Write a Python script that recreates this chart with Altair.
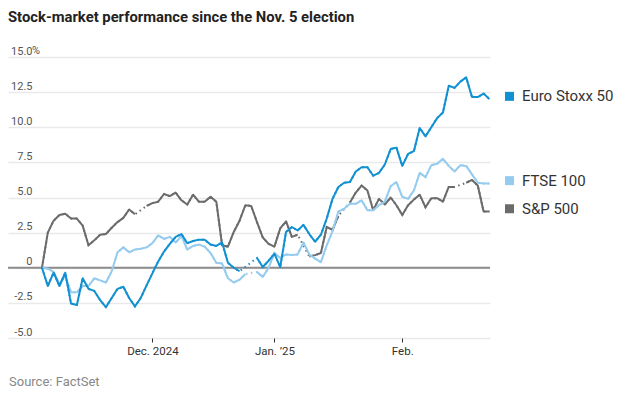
import json
import pandas as pd
import altair as alt

title_text = "Stock-market performance since the Nov. 5 election"
source_text = "Source: FactSet"

series_names = ["Euro Stoxx 50", "FTSE 100", "S&P 500"]
series_colors = ["#1190d2", "#95cbee", "#6b6b6b"]
label_values = [12.2, 6.2, 4.2]

# trading days (union of markets): weekdays Nov 5 2024 - Feb 24 2025, minus Dec 25 and Jan 1
trading_days = [d for d in pd.bdate_range("2024-11-05", "2025-02-24")
                if d.strftime("%m-%d") not in ("12-25", "01-01")]

euro = [0, -1.3, -0.35, -1.3, -0.35, -2.55, -2.65, -0.75, -1.5, -1.65,
        -2.3, -2.8, -2.15, -1.5, -1.35, -2.15, -2.75, -2.15, -1.25, -0.4,
        0.45, 1.15, 1.7, 2.2, 2.4, 1.75, 1.9, 2.0, 2.0, 1.65,
        1.55, 1.8, 0.35, 0.0, -0.25, None, None, 0.7, 0.05, 0.5,
        1.0, 0.05, 2.55, 2.9, 2.65, 3.05, 2.4, 1.85, 2.35, 3.5,
        4.9, 5.75, 6.05, 6.1, 6.85, 7.15, 7.15, 6.55, 6.75, 7.35,
        8.45, 8.55, 7.25, 8.1, 8.3, 9.95, 9.35, 10.0, 10.65, 11.05,
        12.95, 12.8, 13.25, 13.55, 12.15, 12.15, 12.4, 12.0]

ftse = [0, -0.07, -0.3, -1.15, -0.6, -1.75, -1.75, -1.3, -1.3, -0.75,
        -0.9, -1.05, -0.25, 1.1, 1.45, 1.1, 1.3, 1.35, 1.45, 1.75,
        2.3, 2.05, 2.2, 1.8, 2.25, 1.3, 1.55, 1.65, 1.5, 1.05,
        0.35, 0.3, -0.75, -1.05, -0.85, -0.45, None, -0.3, -0.65, 0.0,
        1.05, 0.7, 0.95, 0.9, 0.95, 1.8, 0.95, 0.65, 0.4, 1.6,
        2.6, 4.0, 4.2, 4.55, 4.55, 4.8, 4.1, 4.1, 4.45, 4.7,
        5.8, 6.1, 5.05, 4.9, 5.5, 6.75, 6.45, 7.3, 7.4, 7.75,
        7.25, 6.85, 7.3, 7.25, 6.65, 6.05, 6.0, 6.0]

spx = [0, 2.5, 3.35, 3.75, 3.85, 3.5, 3.5, 3.0, 1.6, 1.95,
       2.35, 2.4, 2.85, 3.25, 3.55, 4.15, 3.8, None, 4.4, 4.6,
       4.7, 5.25, 5.1, 5.35, 4.8, 4.5, 5.2, 4.7, 4.7, 5.05,
       4.7, 1.6, 1.5, 2.55, 3.35, 4.45, 4.4, 3.25, 2.15, 1.7,
       1.5, 2.8, 3.3, 2.2, 2.35, None, 0.8, 0.9, 1.05, 2.9,
       2.7, 3.7, None, 4.65, 5.35, 5.85, 5.5, 4.1, 4.9, 4.5,
       5.0, 4.45, 3.75, 4.45, 4.85, 5.2, 4.3, 4.95, 4.95, 4.7,
       5.75, 5.75, None, 6.05, 6.25, 5.85, 4.0, 4.0]

y_ticks = [-5, -2.5, 0, 2.5, 5, 7.5, 10, 12.5, 15]
month_labels = ["Dec. 2024", "Jan. \u201925", "Feb."]

series_values = {"Euro Stoxx 50": euro, "FTSE 100": ftse, "S&P 500": spx}

# first trading day of each month -> tick positions
tick_idx = []
seen = set()
for i, d in enumerate(trading_days):
    key = (d.year, d.month)
    if key not in seen:
        seen.add(key)
        if i > 0:
            tick_idx.append(i)

x_expr = "''"
for i, lab in reversed(list(zip(tick_idx, month_labels))):
    x_expr = f"datum.value == {i} ? {json.dumps(lab)} : ({x_expr})"

y_expr = "datum.value == 0 ? '0' : replace(format(datum.value, '.1f'), '\u2212', '-')"

x_scale = alt.Scale(domain=[-5.85, 77.1], nice=False, zero=False)
y_scale = alt.Scale(domain=[-5, 15], nice=False, zero=False)
color_scale = alt.Scale(domain=series_names, range=series_colors)

x_axis = alt.Axis(values=tick_idx, labelExpr=x_expr, grid=False, domain=False,
                  ticks=True, tickSize=4, tickColor="#333333", tickWidth=1,
                  labelPadding=3, labelFont="Roboto", labelFontSize=11.5,
                  labelColor="#333333", labelFlush=False, labelOverlap=False, title=None)
y_axis = alt.Axis(values=y_ticks, labelExpr=y_expr, grid=True, gridColor="#e9e9e9",
                  gridWidth=1.5, domain=False, ticks=False, tickSize=0,
                  labelPadding=-24, labelAlign="right", labelBaseline="alphabetic",
                  labelOffset=-3, labelFont="Roboto", labelFontSize=11,
                  labelColor="#555555", labelFlush=False, labelOverlap=False, title=None)

X = alt.X("idx:Q", scale=x_scale, axis=x_axis, title=None)
Y = alt.Y("value:Q", scale=y_scale, axis=y_axis, title=None)
C = alt.Color("series:N", scale=color_scale, legend=None)

layers = []

zero_df = pd.DataFrame({"value": [0]})
layers.append(alt.Chart(zero_df).mark_rule(color="#8c8c8c", strokeWidth=2).encode(y=Y))

for name in ["S&P 500", "FTSE 100", "Euro Stoxx 50"]:
    rows = []
    seg = 0
    for i, v in enumerate(series_values[name]):
        if v is None:
            seg += 1
            continue
        rows.append({"idx": i, "date": trading_days[i].strftime("%Y-%m-%d"),
                     "series": name, "value": v, "seg": seg})
    sdf = pd.DataFrame(rows)
    layers.append(alt.Chart(sdf).mark_line(strokeWidth=2, strokeDash=[1.5, 3.5])
                  .encode(x=X, y=Y, color=C))
    layers.append(alt.Chart(sdf).mark_line(strokeWidth=2, strokeJoin="round")
                  .encode(x=X, y=Y, color=C, detail="seg:N"))

lab_df = pd.DataFrame({"series": series_names, "value": label_values})
layers.append(alt.Chart(lab_df).mark_square(size=81, opacity=1, filled=True)
              .encode(x=alt.value(501.5), y=Y, color=C))
layers.append(alt.Chart(lab_df).mark_text(align="left", baseline="middle", font="Roboto",
                                          fontSize=15, color="#333333")
              .encode(x=alt.value(514), y=Y, text="series:N"))

pct_df = pd.DataFrame({"value": [15], "t": ["%"]})
layers.append(alt.Chart(pct_df).mark_text(align="left", baseline="alphabetic", font="Roboto",
                                          fontSize=11, color="#555555", dy=-3)
              .encode(x=alt.value(24), y=Y, text="t:N"))

title_df = pd.DataFrame({"t": [title_text]})
layers.append(alt.Chart(title_df).mark_text(align="left", baseline="middle",
                                            font="Roboto",
                                            fontWeight="bold", fontSize=14.8, color="#222222")
              .encode(x=alt.value(0), y=alt.value(-39), text="t:N"))

src_df = pd.DataFrame({"t": [source_text]})
layers.append(alt.Chart(src_df).mark_text(align="left", baseline="middle", font="Roboto",
                                          fontSize=13, color="#888888")
              .encode(x=alt.value(1), y=alt.value(325), text="t:N"))

chart = alt.layer(*layers).properties(
    width=482, height=281,
    autosize=alt.AutoSizeParams(type="none"),
    padding={"left": 0, "top": 49, "right": 141, "bottom": 52},
).configure_view(stroke=None)

chart.save("out.html", embed_options={"renderer": "svg", "actions": False})
